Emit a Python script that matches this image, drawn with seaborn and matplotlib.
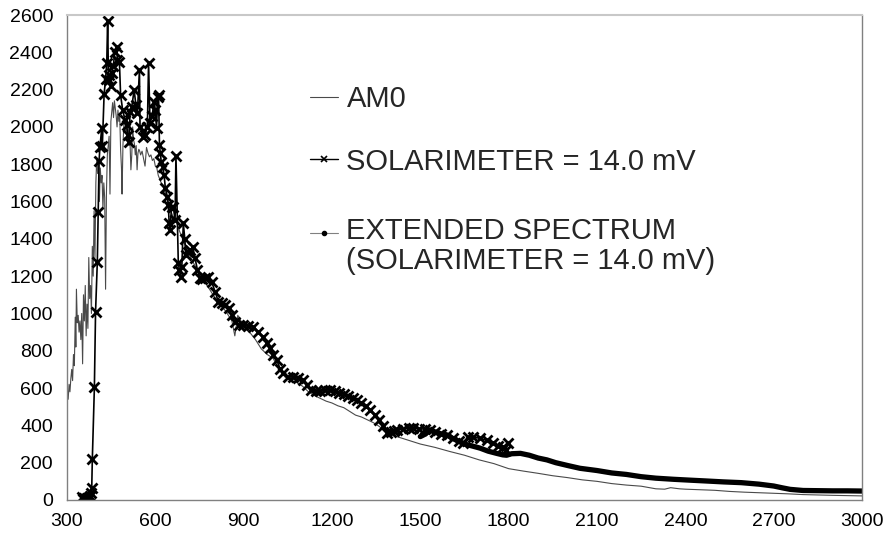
import numpy as np
import pandas as pd
import seaborn as sns
import matplotlib.pyplot as plt
from matplotlib.lines import Line2D

# AM0 reference spectrum (thin grey line)
am0_wl = [300, 301, 304, 307, 310, 313, 316, 319, 322, 325, 328, 330, 332, 335, 338, 341, 344, 347,
          350, 353, 356, 359, 362, 365, 368, 371, 374, 377, 380, 383, 386, 389, 392, 395, 398, 401,
          404, 407, 410, 413, 416, 419, 422, 425, 428, 431, 434, 437, 440, 443, 446, 449, 452, 455,
          458, 461, 464, 467, 470, 473, 476, 479, 482, 485, 487, 490, 493, 496, 499, 502, 505, 508,
          511, 514, 517, 520, 523, 526, 529, 532, 535, 538, 541, 544, 547, 550, 555, 560, 565, 570,
          575, 580, 585, 590, 595, 600, 605, 610, 615, 620, 625, 630, 635, 640, 645, 650, 655, 660,
          670, 680, 690, 700, 720, 740, 760, 780, 800, 820, 840, 860, 870, 880, 900, 920, 940, 960,
          980, 1000, 1020, 1040, 1060, 1080, 1100, 1120, 1140, 1160, 1180, 1200, 1220, 1240, 1260,
          1280, 1300, 1320, 1340, 1360, 1380, 1400, 1420, 1440, 1460, 1480, 1500, 1550, 1600, 1650,
          1700, 1750, 1800, 1850, 1900, 1950, 2000, 2050, 2100, 2150, 2200, 2250, 2300, 2330, 2350,
          2380, 2400, 2450, 2500, 2550, 2600, 2650, 2700, 2750, 2800, 2900, 3000]
am0_val = [220, 600, 540, 620, 580, 650, 700, 640, 780, 720, 980, 820, 1130, 950, 990, 900, 960, 860,
           1000, 730, 1100, 960, 1150, 880, 1050, 920, 1300, 1080, 1150, 1000, 1360, 1200, 1550, 1300, 1700, 1830,
           1750, 1800, 1600, 1780, 1700, 1740, 1560, 1700, 1620, 1130, 1650, 1850, 1900, 1950, 1640, 2030, 2080, 2130,
           2050, 2140, 2100, 2060, 2000, 2090, 2030, 2070, 1880, 1780, 1640, 1900, 2010, 2060, 1980, 2010, 1920, 1990,
           1900, 1920, 1770, 1850, 2000, 1930, 1910, 1850, 1900, 1770, 1860, 1880, 1870, 1850, 1870, 1830, 1790, 1890,
           1860, 1840, 1850, 1820, 1830, 1790, 1780, 1740, 1720, 1700, 1690, 1660, 1640, 1620, 1580, 1560, 1540, 1520,
           1500, 1450, 1410, 1370, 1300, 1240, 1190, 1140, 1090, 1050, 1010, 960, 880, 990, 935, 900, 860, 810,
           780, 760, 700, 660, 640, 630, 610, 580, 560, 545, 530, 520, 505, 495, 475,
           455, 445, 430, 415, 395, 370, 355, 340, 330, 320, 310, 300, 282, 260, 240,
           215, 195, 168, 155, 143, 130, 120, 108, 100, 88, 80, 74, 60, 58, 66,
           60, 58, 55, 52, 46, 42, 39, 36, 33, 29, 25, 22]

# measured spectrum, solarimeter = 14.0 mV (x markers)
sol_wl = [350, 354, 357, 360, 363, 366, 369, 372, 375, 378, 381, 384, 386, 393, 397, 403, 406, 409,
          412, 418, 420, 426, 431, 435, 438, 441, 444, 448, 452, 457, 463, 469, 471, 478, 482, 489,
          497, 503, 506, 511, 514, 520, 528, 534, 539, 546, 548, 557, 565, 573, 577, 582, 589, 596,
          600, 604, 608, 611, 614, 617, 620, 625, 630, 634, 641, 644, 647, 650, 655, 661, 667, 670,
          678, 682, 686, 690, 695, 700, 704, 712, 718, 727, 735, 743, 752, 760, 769, 780, 791, 803,
          814, 825, 838, 850, 860, 871, 885, 899, 915, 933, 950, 967, 980, 990, 1000, 1012, 1025,
          1035, 1050, 1069, 1085, 1100, 1115, 1130, 1145, 1160, 1175, 1193, 1210, 1225, 1240, 1255,
          1270, 1285, 1300, 1315, 1329, 1345, 1358, 1372, 1386, 1400, 1410, 1420, 1440, 1460, 1476,
          1495, 1515, 1533, 1550, 1570, 1590, 1610, 1630, 1646, 1663, 1680, 1703, 1725, 1748, 1765,
          1782, 1790, 1799]
sol_val = [15, 5, 10, 3, 8, 2, 12, 5, 15, 20, 40, 63, 218, 604, 1010, 1278, 1546, 1819,
           1894, 1993, 1898, 2175, 2255, 2341, 2568, 2250, 2278, 2219, 2287, 2327, 2403, 2430, 2359, 2350, 2171, 2091,
           2037, 2010, 1957, 1921, 2082, 2108, 2198, 2118, 2073, 2305, 2001, 1948, 1957, 2001, 2341, 2019, 2059, 2135,
           2091, 1993, 2159, 2171, 1903, 1858, 1814, 1787, 1740, 1671, 1626, 1581, 1483, 1447, 1572, 1572, 1501, 1846,
           1269, 1233, 1197, 1250, 1483, 1400, 1313, 1330, 1340, 1358, 1296, 1233, 1188, 1185, 1188, 1197, 1170, 1117,
           1063, 1055, 1045, 1030, 990, 955, 940, 938, 935, 929, 900, 875, 840, 813, 780, 750, 700,
           679, 662, 660, 655, 643, 615, 590, 582, 585, 590, 590, 585, 575, 568, 560,
           548, 535, 522, 505, 483, 455, 429, 395, 360, 362, 370, 375, 380, 384, 384,
           382, 380, 375, 365, 355, 349, 330, 315, 304, 340, 336, 331, 320, 304, 292,
           286, 270, 304]

# extended spectrum (solarimeter = 14.0 mV)
ext_wl = [1500, 1515, 1533, 1550, 1570, 1590, 1610, 1630, 1650, 1675, 1703, 1730, 1759, 1780, 1793,
          1810, 1840, 1870, 1900, 1930, 1960, 2000, 2042, 2100, 2150, 2200, 2250, 2300, 2360, 2420,
          2470, 2530, 2590, 2650, 2700, 2730, 2756, 2800, 2850, 2900, 2950, 3000]
ext_val = [340, 352, 375, 365, 355, 349, 330, 315, 300, 290, 278, 262, 250, 242, 240,
           248, 250, 240, 225, 215, 200, 185, 170, 158, 145, 137, 125, 117, 111, 106,
           102, 97, 93, 85, 75, 65, 57, 51, 50, 49, 49, 48]

x_ticks = [300, 600, 900, 1200, 1500, 1800, 2100, 2400, 2700, 3000]
y_ticks = list(range(0, 2601, 200))
labels = ["AM0", "SOLARIMETER = 14.0 mV", "EXTENDED SPECTRUM\n(SOLARIMETER = 14.0 mV)"]

sns.set_style("white")
plt.rcParams['font.family'] = ['Liberation Sans', 'DejaVu Sans']

fig = plt.figure(figsize=(8.86, 5.41), dpi=100)
ax = fig.add_axes([67 / 886, 1 - 500 / 541, 795 / 886, 485 / 541])

sns.lineplot(x=am0_wl, y=am0_val, ax=ax, color="#4a4a4a", lw=0.8, estimator=None, sort=False)
sns.lineplot(x=ext_wl, y=ext_val, ax=ax, color="black", lw=3.8, estimator=None, sort=False)
sns.lineplot(x=sol_wl, y=sol_val, ax=ax, color="black", lw=1.2, marker="x", markersize=6.5,
             markeredgewidth=2.0, markeredgecolor="black", estimator=None, sort=False)

ax.set_xlim(300, 3000)
ax.set_ylim(0, 2600)
ax.set_xticks(x_ticks)
ax.set_xticks(range(300, 3001, 100), minor=True)
ax.set_yticks(y_ticks)
ax.tick_params(axis="both", which="both", direction="out", length=4, width=1, color="#808080",
               labelsize=14, labelcolor="black")
ax.tick_params(axis="x", pad=5)
ax.tick_params(axis="y", pad=6)
ax.set_xlabel("")
ax.set_ylabel("")
for side in ["left", "bottom", "right"]:
    ax.spines[side].set_color("#808080")
    ax.spines[side].set_linewidth(1)
ax.spines["top"].set_color("#c8c8c8")
ax.spines["top"].set_linewidth(1.5)

handles = [
    Line2D([], [], color="#4a4a4a", lw=0.8),
    Line2D([], [], color="black", lw=1.0, marker="x", markersize=5, markeredgewidth=1.2),
    Line2D([], [], color="#808080", lw=0.8, marker="o", markersize=3, markerfacecolor="black",
           markeredgecolor="black"),
]
leg_kw = dict(loc="upper left", bbox_transform=fig.transFigure, frameon=False, fontsize=21,
              borderpad=0, borderaxespad=0, handlelength=0.95, handletextpad=0.3)
leg1 = ax.legend(handles[:2], labels[:2], bbox_to_anchor=(310 / 886, 1 - 85 / 541),
                 labelspacing=1.19, **leg_kw)
ax.add_artist(leg1)
leg2 = ax.legend(handles[2:], labels[2:], bbox_to_anchor=(310 / 886, 1 - 217 / 541), **leg_kw)
leg2.get_texts()[0].set_linespacing(1.07)
# put the marker of the two-line entry level with its first line
h = leg2.legend_handles[0]
h.set_ydata(np.asarray(h.get_ydata()) + 10)

fig.savefig("out.png", dpi=100)
